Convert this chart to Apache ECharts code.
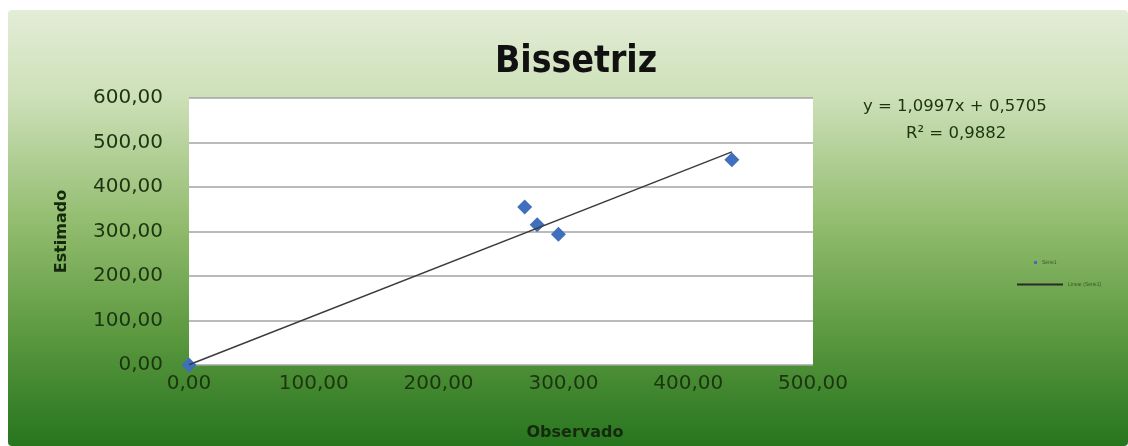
<!DOCTYPE html>
<html>
<head>
<meta charset="utf-8">
<script src="https://cdn.jsdelivr.net/npm/echarts@6/dist/echarts.min.js"></script>
<style>
  html, body { margin: 0; padding: 0; background: #ffffff; }
  #main { width: 1128px; height: 446px; }
</style>
</head>
<body>
<div id="main"></div>
<script>
var myChart = echarts.init(document.getElementById('main'));

// observado (x) / estimado (y)
var observado = [0, 269, 279, 296, 435];
var estimado = [0, 355, 315, 294, 461];
// linha de tendência (pontas)
var trendX = [0, 435];
var trendY = [0.57, 479];
var xTicks = [0, 500, 100];
var yTicks = [0, 600, 100];
var equacao = 'y = 1,0997x + 0,5705';
var r2 = 'R² = 0,9882';

var labelFont = 'DejaVu Sans';
var textColor = '#1c3510';

function fmt(v) {
    return v.toFixed(2).replace('.', ',');
}

var pontos = observado.map(function (x, i) { return [x, estimado[i]]; });
var tendencia = trendX.map(function (x, i) { return [x, trendY[i]]; });

option = {
    backgroundColor: '#ffffff',
    title: {
        text: 'Bissetriz',
        left: 490,
        top: 39,
        textStyle: {
            fontFamily: 'DejaVu Sans Condensed, sans-serif',
            fontWeight: 'bold',
            fontSize: 37,
            color: '#111111'
        }
    },
    legend: [{
        data: ['Série1'],
        left: 1029,
        top: 255,
        itemWidth: 3,
        itemHeight: 3,
        itemGap: 2,
        icon: 'rect',
        textStyle: { fontSize: 5, color: '#3a5a2a' }
    }, {
        data: ['Linear (Série1)'],
        left: 1012,
        top: 277,
        itemWidth: 46,
        itemHeight: 2,
        icon: 'rect',
        textStyle: { fontSize: 5, color: '#3a5a2a' }
    }],
    graphic: [{
        type: 'rect',
        z: -100,
        silent: true,
        shape: { x: 8, y: 10, width: 1120, height: 436, r: 4 },
        style: {
            fill: new echarts.graphic.LinearGradient(0, 0, 0, 1, [
                { offset: 0, color: '#e3edd7' },
                { offset: 0.2, color: '#cde0b8' },
                { offset: 0.5, color: '#90bb6c' },
                { offset: 0.75, color: '#5a983e' },
                { offset: 1, color: '#27751f' }
            ])
        }
    }, {
        type: 'text',
        left: 863,
        top: 98,
        style: {
            text: equacao,
            fontFamily: labelFont,
            fontSize: 16.5,
            fill: textColor
        }
    }, {
        type: 'text',
        left: 906,
        top: 125,
        style: {
            text: r2,
            fontFamily: labelFont,
            fontSize: 16.5,
            fill: textColor
        }
    }],
    grid: {
        left: 189,
        top: 98,
        right: 315,
        bottom: 81,
        show: true,
        backgroundColor: '#ffffff',
        borderWidth: 0
    },
    xAxis: {
        type: 'value',
        min: xTicks[0],
        max: xTicks[1],
        interval: xTicks[2],
        name: 'Observado',
        nameLocation: 'middle',
        nameGap: 60,
        nameTextStyle: {
            fontFamily: labelFont,
            fontWeight: 'bold',
            fontSize: 16,
            color: '#15290c',
            padding: [0, 0, 0, 148]
        },
        axisLine: { show: false },
        axisTick: { show: false },
        splitLine: { show: false },
        axisLabel: {
            margin: 9,
            fontFamily: labelFont,
            fontSize: 20,
            color: textColor,
            formatter: fmt
        }
    },
    yAxis: {
        type: 'value',
        min: yTicks[0],
        max: yTicks[1],
        interval: yTicks[2],
        name: 'Estimado',
        nameLocation: 'middle',
        nameGap: 119,
        nameTextStyle: {
            fontFamily: labelFont,
            fontWeight: 'bold',
            fontSize: 16,
            color: '#15290c'
        },
        axisLine: { show: false },
        axisTick: { show: false },
        splitLine: { show: true, lineStyle: { color: '#a3a3a3', width: 1.5 } },
        axisLabel: {
            margin: 26,
            fontFamily: labelFont,
            fontSize: 20,
            color: textColor,
            formatter: fmt
        }
    },
    series: [{
        name: 'Série1',
        type: 'scatter',
        symbol: 'diamond',
        symbolSize: 15,
        itemStyle: { color: '#3f6fbd', opacity: 1 },
        data: pontos,
        z: 3
    }, {
        name: 'Linear (Série1)',
        type: 'line',
        symbol: 'none',
        lineStyle: { color: '#3c3c3c', width: 1.5 },
        itemStyle: { color: '#2a2a2a' },
        data: tendencia,
        z: 4
    }]
};

myChart.setOption(option);
</script>
</body>
</html>
